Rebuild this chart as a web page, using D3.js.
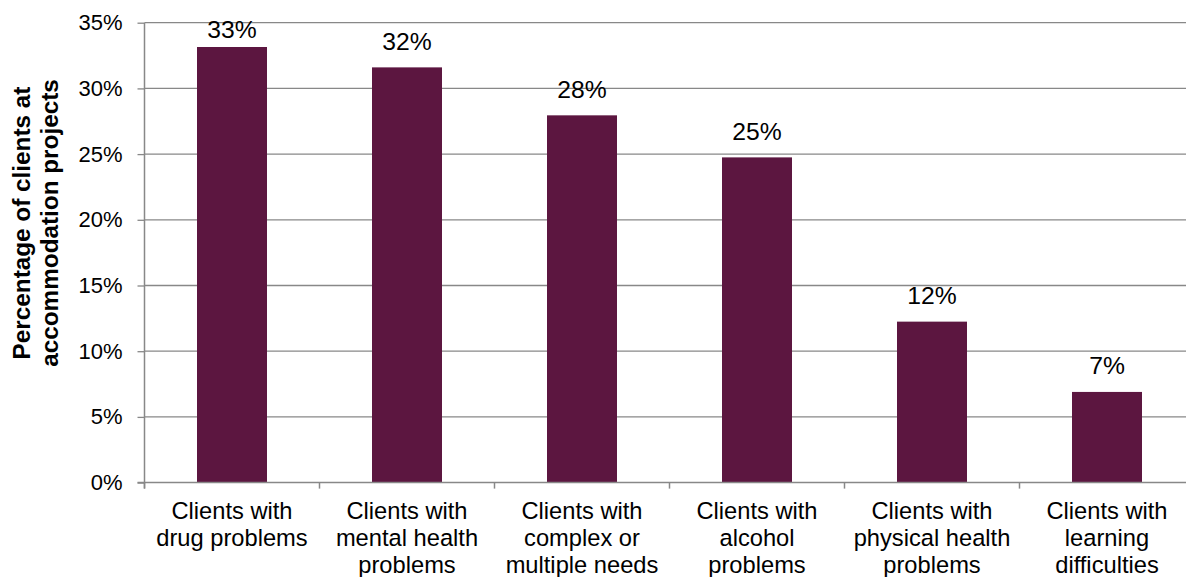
<!DOCTYPE html>
<html>
<head>
<meta charset="utf-8">
<script src="https://cdn.jsdelivr.net/npm/d3@7"></script>
<style>
  html, body { margin: 0; padding: 0; background: #fff; }
  svg { display: block; font-family: "Liberation Sans", Arial, sans-serif; }
</style>
</head>
<body>
<svg id="chart" width="1186" height="577"></svg>
<script>
// Client needs at accommodation projects
const categories = [
  ["Clients with", "drug problems"],
  ["Clients with", "mental health", "problems"],
  ["Clients with", "complex or", "multiple needs"],
  ["Clients with", "alcohol", "problems"],
  ["Clients with", "physical health", "problems"],
  ["Clients with", "learning", "difficulties"]
];
const percentages = [33.15, 31.6, 27.95, 24.75, 12.25, 6.9];
const yTicks = [0, 5, 10, 15, 20, 25, 30, 35];
const yTitle = ["Percentage of clients at", "accommodation projects"];

const svg = d3.select("#chart");
const W = 1186;
const plot = { left: 144.5, top: 22.7, bottom: 482.6, right: 1194.5 };

const x = d3.scaleBand()
  .domain(d3.range(categories.length))
  .range([plot.left, plot.right])
  .paddingInner(0.6)
  .paddingOuter(0.3);

const y = d3.scaleLinear()
  .domain([0, 35])
  .range([plot.bottom, plot.top]);

const gridColor = "#888888";

// horizontal gridlines
svg.append("g")
  .selectAll("line")
  .data(yTicks.filter(d => d > 0))
  .join("line")
  .attr("x1", plot.left).attr("x2", W)
  .attr("y1", d => y(d)).attr("y2", d => y(d))
  .attr("stroke", gridColor).attr("stroke-width", 1.3);

// bars
svg.append("g")
  .selectAll("rect")
  .data(percentages)
  .join("rect")
  .attr("x", (d, i) => x(i))
  .attr("width", x.bandwidth())
  .attr("y", d => y(d))
  .attr("height", d => y(0) - y(d))
  .attr("fill", "#5c1640");

// y axis
const yAxis = svg.append("g")
  .attr("transform", `translate(${plot.left},0)`)
  .call(d3.axisLeft(y).tickValues(yTicks).tickSize(7).tickPadding(15).tickFormat(d => d + "%"));
yAxis.select(".domain").remove();
yAxis.selectAll(".tick line").attr("stroke", gridColor).attr("stroke-width", 1.3);
yAxis.selectAll(".tick text")
  .attr("font-size", 22).attr("fill", "#000")
  .attr("font-family", "'Liberation Sans', Arial, sans-serif");

// axis lines
svg.append("line")
  .attr("x1", plot.left).attr("x2", plot.left)
  .attr("y1", plot.top).attr("y2", plot.bottom + 6)
  .attr("stroke", gridColor).attr("stroke-width", 1.5);
svg.append("line")
  .attr("x1", plot.left - 7).attr("x2", W)
  .attr("y1", plot.bottom).attr("y2", plot.bottom)
  .attr("stroke", gridColor).attr("stroke-width", 1.5);

// category boundary ticks
const step = x.step();
svg.append("g")
  .selectAll("line")
  .data(d3.range(categories.length + 1))
  .join("line")
  .attr("x1", i => x(0) - x.paddingOuter() * step + i * step)
  .attr("x2", i => x(0) - x.paddingOuter() * step + i * step)
  .attr("y1", plot.bottom).attr("y2", plot.bottom + 6)
  .attr("stroke", gridColor).attr("stroke-width", 1.5);

// category labels
const catG = svg.append("g")
  .selectAll("text")
  .data(categories)
  .join("text")
  .attr("text-anchor", "middle")
  .attr("font-size", 23.7)
  .attr("fill", "#000");
catG.each(function(lines, i) {
  const cx = x(i) + x.bandwidth() / 2;
  d3.select(this).selectAll("tspan")
    .data(lines)
    .join("tspan")
    .attr("x", cx)
    .attr("y", (d, j) => 519 + j * 27)
    .text(d => d);
});

// value labels
svg.append("g")
  .selectAll("text")
  .data(percentages)
  .join("text")
  .attr("x", (d, i) => x(i) + x.bandwidth() / 2)
  .attr("y", d => Math.max(y(d) - 17.5, plot.top + 15.7))
  .attr("text-anchor", "middle")
  .attr("font-size", 24.7)
  .attr("fill", "#000")
  .text(d => Math.round(d) + "%");

// y axis title
svg.append("text")
  .attr("transform", "translate(0,223) rotate(-90)")
  .attr("text-anchor", "middle")
  .attr("font-size", 24.3)
  .attr("font-weight", "bold")
  .attr("fill", "#000")
  .selectAll("tspan")
  .data(yTitle)
  .join("tspan")
  .attr("x", 0)
  .attr("y", (d, i) => 30 + i * 27.5)
  .text(d => d);
</script>
</body>
</html>
